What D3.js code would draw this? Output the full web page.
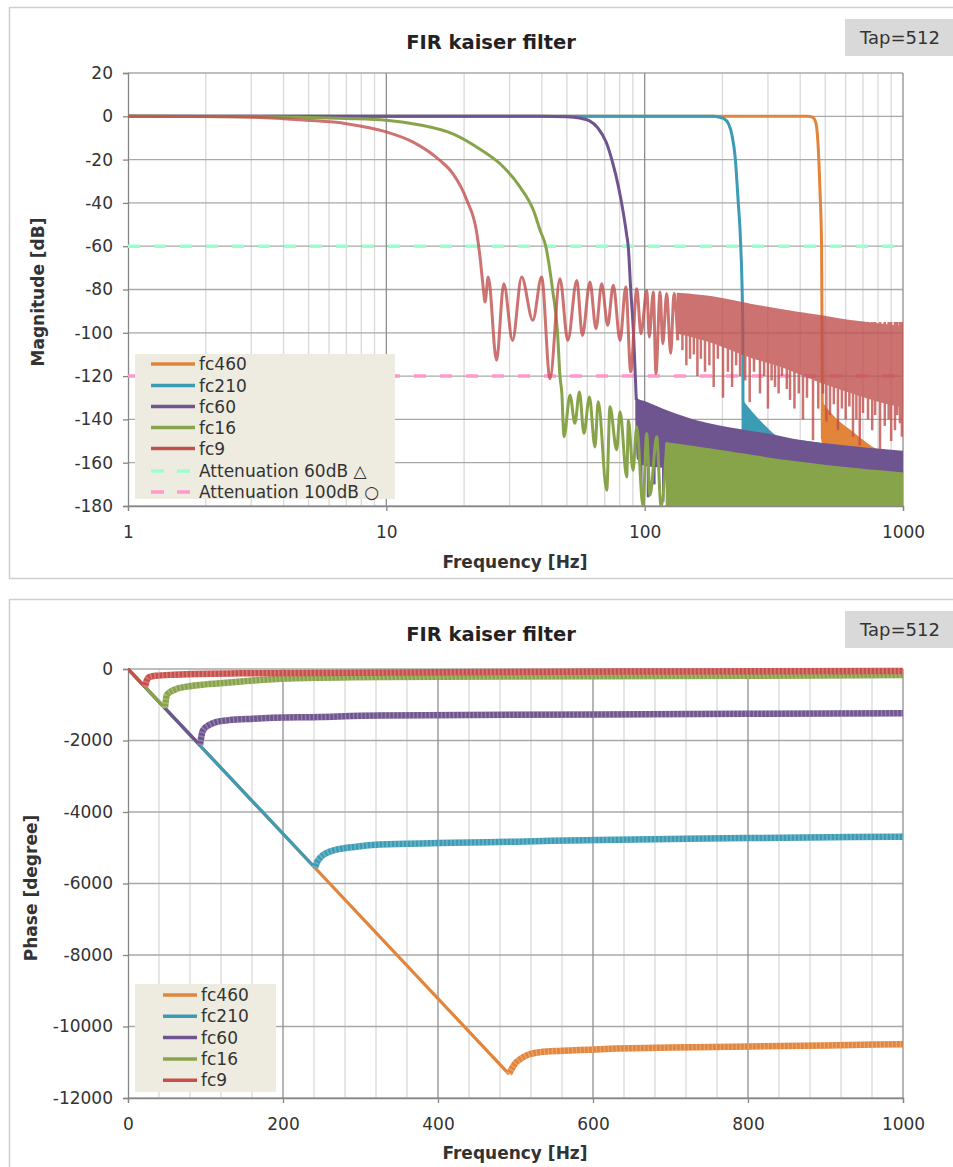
<!DOCTYPE html>
<html>
<head>
<meta charset="utf-8">
<script src="https://cdn.jsdelivr.net/npm/d3@7"></script>
<style>
body { margin: 0; background: #fff; }
svg { display: block; font-family: "DejaVu Sans", Verdana, sans-serif; }
</style>
</head>
<body>
<svg id="chart" width="953" height="1167"></svg>
<script>
// ---------- magnitude data : [Hz, dB] ----------
var magFc460 = [[1,0],[300,0],[430,0],[443,-0.3],[455,-1.5],[463,-4.9],[470,-15],[477,-34],[484,-60],[486,-100],[487,-132.7],[487.3,-149]];
var magFc210 = [[1,0],[150,0],[185,0],[193,-0.3],[202,-1],[211,-3.4],[218,-9],[224,-18.8],[230,-38.8],[235.5,-60],[239.7,-95.8],[240.2,-132],[240.4,-147]];
var magFc60 = [[1,0],[40,0],[50,-0.2],[56,-0.8],[61,-2],[66,-5.5],[71,-12],[75,-21],[79,-32],[82.5,-44],[85,-54],[86.5,-61],[88.3,-80],[90.5,-100],[92,-120],[92.8,-131]];
var magFc16 = [[1,0],[3,-0.2],[5,-0.5],[7,-1],[10,-1.8],[13.5,-4],[18.2,-8.2],[23.05,-15.2],[28.4,-23.4],[32.9,-32.6],[37.1,-43.4],[39.4,-52.7],[41.4,-60],[44,-80],[46,-100],[47,-120],[47.8,-128],[48.7,-148],
  [51.4,-128.9],[53.7,-141.8],[55.9,-127.3],[58.2,-146.5],[61.1,-129.6],[64.2,-152.7],[66.1,-131.9],[71.3,-172.7],[73.4,-134.2],[77.9,-154],[80.3,-136.5],[85.2,-166.5],[86.5,-140.4],[90.1,-163.5],[93.2,-143.5],[98.5,-180],[101.8,-146.5],[104.9,-175],[111.3,-148],[115.7,-180],[121.7,-151]];
var magFc9 = [[1,0],[2,-0.1],[3.05,-0.4],[4.9,-1.8],[7,-3.4],[10,-7.2],[12.7,-11.9],[16.1,-20.3],[18.1,-26.5],[20.5,-38.8],[22.4,-54],[23.05,-65],[23.7,-78.8],[24.1,-85.8],
  [24.8,-74.2],[26.7,-112.7],[28.5,-77.3],[30.8,-103.5],[33.4,-74.2],[36.9,-94.2],[39.9,-74.2],[43.0,-121.2],[47.0,-75],[50.4,-103.5],[54.6,-75.8],[57.4,-101.2],[61.4,-76.5],[64.8,-98.1],[68.2,-77.3],[71.9,-96.5],[75.6,-78],[80.3,-103.5],[84.5,-78.8],[88.3,-118],[93.2,-79.6],[96.8,-100.4],[101.9,-80.4],[104.2,-101.9],[108.0,-81.1],[110.6,-118.8],[114.7,-81.1],[117.5,-105],[121.7,-81.9],[126.1,-109.6],[129.9,-81.9],[134.3,-103.5]];

// dense stop band regions : [Hz, top dB, bottom dB]
var bandFc460 = [[487,-132.6,-150],[520,-137,-158],[560,-141,-160],[620,-145,-162],[700,-150,-163],[765,-153.3,-164],[1000,-158,-166]];
var bandFc210 = [[240.3,-132,-148],[260,-137,-155],[290,-143,-158],[330,-148.5,-160],[400,-150,-162],[1000,-156,-166]];
var bandFc60 = [[92.8,-130,-140],[94,-131,-158],[100,-132,-161],[120,-136,-162],[150,-140,-163],[209,-144,-164],[300,-147,-165],[400,-150,-166],[600,-152.5,-167],[1000,-155,-168]];
var bandFc16 = [[121.7,-151,-180],[150,-152.5,-180],[209,-155,-180],[300,-158,-180],[400,-160,-180],[600,-162.5,-180],[1000,-165,-180]];
var bandFc9 = [[134.3,-82,-100],[180,-83.5,-104],[256,-87,-111],[350,-89.8,-116],[464,-92,-122],[650,-94.8,-128],[837,-96.3,-132],[1000,-97.3,-134]];

// deep nulls below the dense bands : [Hz, dB]
var spikesFc9 = [[140,-108],[145,-115],[149.8,-112],[155,-110],[160,-120],[165,-112],[171.2,-118],[178,-115],[185,-125],[192,-112],[201,-130],[210,-118],[218,-125],[226,-115],[234,-120],[245,-122],[255,-132],[265,-118],[279.6,-128],[290,-120],[300,-135],[310,-122],[319.6,-125],[330,-128],[340,-120],[355,-126],[365.3,-131],[380,-135],[395,-128],[410,-140],[425,-130],[448.4,-149.6],[470,-135],[490,-128],[505,-141],[521.6,-138],[540,-133],[560,-145],[580,-135],[600,-140],[620,-134],[640.4,-148],[660,-140],[680,-152],[700,-137],[732,-140],[760,-145],[780,-138],[815,-154],[850,-143],[880,-140],[900,-150],[931,-145],[950,-138],[973,-141.8],[990,-148]];
var spikesFc60 = [[97,-172],[103,-176],[109,-170],[118,-178],[128,-174],[140,-180]];

var magTicksY = [20,0,-20,-40,-60,-80,-100,-120,-140,-160,-180];
var magTicksX = [1,10,100,1000];
var attLevels = [-60,-120];
var attColors = ["#99ffcc","#ff99cc"];
var attLabels = ["Attenuation 60dB \u25b3","Attenuation 100dB \u25cb"];

// ---------- phase data : [Hz, degree] ----------
var phFc460 = [[0,0],[491.6,-11331],[496,-11150],[500,-11020],[506,-10912],[515,-10800],[532,-10717],[560,-10680],[609,-10633],[700,-10590],[800,-10560],[900,-10530],[1000,-10494]];
var phFc210 = [[0,0],[241.3,-5560],[244,-5400],[247.7,-5284],[255,-5160],[269,-5052],[300,-4960],[325,-4912],[400,-4870],[500,-4830],[609,-4780],[800,-4730],[1000,-4690]];
var phFc60 = [[0,0],[92.9,-2130],[95,-1850],[97.2,-1700],[105,-1560],[114.4,-1480],[130,-1430],[161.7,-1390],[247.7,-1340],[325,-1300],[609,-1270],[800,-1250],[1000,-1237]];
var phFc16 = [[0,0],[47.7,-1090],[49,-850],[50,-725],[60,-580],[75.7,-493],[100,-430],[118.7,-400],[150,-340],[204.7,-265],[325,-225],[609,-205],[800,-190],[1000,-170]];
var phFc9 = [[0,0],[22,-500],[24,-330],[27,-230],[35,-190],[60,-160],[150,-120],[400,-90],[700,-70],[1000,-55]];

var phTicksY = [0,-2000,-4000,-6000,-8000,-10000,-12000];
var phTicksX = [0,200,400,600,800,1000];

var seriesNames = ["fc460","fc210","fc60","fc16","fc9"];
var magColors = ["#e2843a","#3c9bb5","#6f558f","#88a44a","#c0504d"];
var phColors = ["#e2843a","#3c9bb5","#6f558f","#88a44a","#c94f4b"];

var svg = d3.select("#chart");

function drawPanel(top, bottom) {
	svg.append("rect")
		.attr("x", 9.5).attr("y", top + 0.5)
		.attr("width", 960).attr("height", bottom - top)
		.attr("fill", "#fff").attr("stroke", "#cfcfcf").attr("stroke-width", 1.5);
	svg.append("rect")
		.attr("x", 845).attr("y", top + 12)
		.attr("width", 115).attr("height", 37)
		.attr("fill", "#d9d9d9");
	svg.append("text")
		.attr("x", 900).attr("y", top + 37)
		.attr("text-anchor", "middle")
		.attr("font-size", 18).attr("fill", "#333")
		.text("Tap=512");
	svg.append("text")
		.attr("x", 491).attr("y", top + 42)
		.attr("text-anchor", "middle")
		.attr("font-size", 19.5).attr("font-weight", "bold").attr("fill", "#222")
		.text("FIR kaiser filter");
}

function styleAxis(g) {
	g.select(".domain").attr("stroke", "#868686").attr("stroke-width", 1.3);
	g.selectAll(".tick line").attr("stroke", "#868686").attr("stroke-width", 1.3);
	g.selectAll(".tick text").attr("font-size", 17).attr("fill", "#333")
		.attr("font-family", "DejaVu Sans, Verdana, sans-serif");
}

function plainNumber(d) { return d; }

// ================= magnitude chart =================
drawPanel(7, 578);

var xMag = d3.scaleLog().domain([1, 1000]).range([128, 903]);
var yMag = d3.scaleLinear().domain([-180, 20]).range([506, 73]);

svg.append("clipPath").attr("id", "clipMag").append("rect")
	.attr("x", 128).attr("y", 73).attr("width", 775).attr("height", 433);

var minorX = [];
[1, 10, 100].forEach(function(d) {
	for (var k = 2; k <= 9; k++) minorX.push(d * k);
});

var gridMag = svg.append("g");
gridMag.selectAll(".minor").data(minorX).enter().append("line")
	.attr("x1", function(d) { return xMag(d); }).attr("x2", function(d) { return xMag(d); })
	.attr("y1", 73).attr("y2", 506)
	.attr("stroke", "#d9d9d9").attr("stroke-width", 1.3);
gridMag.selectAll(".hgrid").data(magTicksY).enter().append("line")
	.attr("x1", 128).attr("x2", 903)
	.attr("y1", function(d) { return yMag(d); }).attr("y2", function(d) { return yMag(d); })
	.attr("stroke", "#a8a8a8").attr("stroke-width", 1.3);
gridMag.selectAll(".vgrid").data([10, 100, 1000]).enter().append("line")
	.attr("x1", function(d) { return xMag(d); }).attr("x2", function(d) { return xMag(d); })
	.attr("y1", 73).attr("y2", 506)
	.attr("stroke", "#8e8e8e").attr("stroke-width", 1.3);

svg.append("g")
	.attr("transform", "translate(128,0)")
	.call(d3.axisLeft(yMag).tickValues(magTicksY).tickSize(5).tickPadding(10).tickFormat(plainNumber))
	.call(styleAxis);
svg.append("g")
	.attr("transform", "translate(0,506)")
	.call(d3.axisBottom(xMag).tickValues(magTicksX).tickSize(5).tickPadding(15).tickFormat(plainNumber))
	.call(styleAxis);

var plotMag = svg.append("g").attr("clip-path", "url(#clipMag)");

var magLine = d3.line()
	.x(function(d) { return xMag(d[0]); })
	.y(function(d) { return yMag(d[1]); })
	.curve(d3.curveMonotoneX);
var magArea = d3.area()
	.x(function(d) { return xMag(d[0]); })
	.y0(function(d) { return yMag(d[2]); })
	.y1(function(d) { return yMag(d[1]); })
	.curve(d3.curveMonotoneX);

var magLines = [magFc460, magFc210, magFc60, magFc16, magFc9];
var magBands = [bandFc460, bandFc210, bandFc60, bandFc16, bandFc9];
var magSpikes = [[], [], spikesFc60, [], spikesFc9];

attLevels.forEach(function(v, i) {
	plotMag.append("line")
		.attr("x1", 128).attr("x2", 903)
		.attr("y1", yMag(v)).attr("y2", yMag(v))
		.attr("stroke", attColors[i]).attr("stroke-width", 3.5)
		.attr("stroke-dasharray", "12,14");
});

for (var i = 0; i < magLines.length; i++) {
	var g = plotMag.append("g").attr("opacity", i == 4 ? 0.8 : 1);
	g.append("path")
		.attr("d", magArea(magBands[i]))
		.attr("fill", magColors[i])
		.attr("stroke", magColors[i]).attr("stroke-width", 2);
	g.selectAll(".spike").data(magSpikes[i]).enter().append("line")
		.attr("x1", function(d) { return xMag(d[0]); }).attr("x2", function(d) { return xMag(d[0]); })
		.attr("y1", function(d) { return yMag(d[1]); })
		.attr("y2", yMag(i == 4 ? -95 : -150))
		.attr("stroke", magColors[i]).attr("stroke-width", 2.5);
	g.append("path")
		.attr("d", magLine(magLines[i]))
		.attr("fill", "none")
		.attr("stroke", magColors[i]).attr("stroke-width", 3)
		.attr("stroke-linejoin", "round");
}

// legend
var legMag = svg.append("g");
legMag.append("rect")
	.attr("x", 135).attr("y", 354).attr("width", 260).attr("height", 145)
	.attr("fill", "#eeece1");
var legYs = [364, 385.5, 406.5, 427.5, 448.5, 471, 492];
seriesNames.forEach(function(name, i) {
	legMag.append("line")
		.attr("x1", 151).attr("x2", 195)
		.attr("y1", legYs[i]).attr("y2", legYs[i])
		.attr("stroke", magColors[i]).attr("stroke-width", 3.5);
	legMag.append("text")
		.attr("x", 199).attr("y", legYs[i] + 6)
		.attr("font-size", 17).attr("fill", "#333")
		.text(name);
});
attLabels.forEach(function(name, i) {
	var yy = legYs[5 + i];
	legMag.append("line")
		.attr("x1", 151).attr("x2", 191)
		.attr("y1", yy).attr("y2", yy)
		.attr("stroke", attColors[i]).attr("stroke-width", 3.5)
		.attr("stroke-dasharray", "13,13");
	legMag.append("text")
		.attr("x", 199).attr("y", yy + 6)
		.attr("font-size", 17).attr("fill", "#333")
		.text(name);
});

svg.append("text")
	.attr("x", 515).attr("y", 568)
	.attr("text-anchor", "middle")
	.attr("font-size", 17).attr("font-weight", "bold").attr("fill", "#333")
	.text("Frequency [Hz]");
svg.append("text")
	.attr("transform", "translate(44,292) rotate(-90)")
	.attr("text-anchor", "middle")
	.attr("font-size", 17).attr("font-weight", "bold").attr("fill", "#333")
	.text("Magnitude [dB]");

// ================= phase chart =================
drawPanel(599, 1180);

var xPh = d3.scaleLinear().domain([0, 1000]).range([128, 903]);
var yPh = d3.scaleLinear().domain([-12000, 0]).range([1098, 669]);

svg.append("clipPath").attr("id", "clipPh").append("rect")
	.attr("x", 128).attr("y", 660).attr("width", 775).attr("height", 438);

var minorPh = d3.range(40, 1000, 40).filter(function(d) { return d % 200 != 0; });

var gridPh = svg.append("g");
gridPh.selectAll(".minor").data(minorPh).enter().append("line")
	.attr("x1", function(d) { return xPh(d); }).attr("x2", function(d) { return xPh(d); })
	.attr("y1", 669).attr("y2", 1098)
	.attr("stroke", "#d9d9d9").attr("stroke-width", 1.3);
gridPh.selectAll(".hgrid").data(phTicksY).enter().append("line")
	.attr("x1", 128).attr("x2", 903)
	.attr("y1", function(d) { return yPh(d); }).attr("y2", function(d) { return yPh(d); })
	.attr("stroke", "#a8a8a8").attr("stroke-width", 1.3);
gridPh.selectAll(".vgrid").data(phTicksX.slice(1)).enter().append("line")
	.attr("x1", function(d) { return xPh(d); }).attr("x2", function(d) { return xPh(d); })
	.attr("y1", 669).attr("y2", 1098)
	.attr("stroke", "#8e8e8e").attr("stroke-width", 1.3);

svg.append("g")
	.attr("transform", "translate(128,0)")
	.call(d3.axisLeft(yPh).tickValues(phTicksY).tickSize(5).tickPadding(10).tickFormat(plainNumber))
	.call(styleAxis);
svg.append("g")
	.attr("transform", "translate(0,1098)")
	.call(d3.axisBottom(xPh).tickValues(phTicksX).tickSize(5).tickPadding(15).tickFormat(plainNumber))
	.call(styleAxis);

var plotPh = svg.append("g").attr("clip-path", "url(#clipPh)");
var phLine = d3.line()
	.x(function(d) { return xPh(d[0]); })
	.y(function(d) { return yPh(d[1]); })
	.curve(d3.curveMonotoneX);

var phLines = [phFc460, phFc210, phFc60, phFc16, phFc9];
for (var i = 0; i < phLines.length; i++) {
	var data = phLines[i];
	var m = d3.minIndex(data, function(d) { return d[1]; });
	// linear phase part
	plotPh.append("path")
		.attr("d", d3.line().x(function(d) { return xPh(d[0]); }).y(function(d) { return yPh(d[1]); })(data.slice(0, m + 1)))
		.attr("fill", "none").attr("stroke", phColors[i]).attr("stroke-width", 3.2);
	// stop band part (rippled, drawn thick)
	plotPh.append("path")
		.attr("d", phLine(data.slice(m)))
		.attr("fill", "none").attr("stroke", phColors[i]).attr("stroke-width", 6.5)
		.attr("stroke-linejoin", "round");
	plotPh.append("path")
		.attr("d", phLine(data.slice(m)))
		.attr("fill", "none").attr("stroke", "#fff").attr("stroke-width", 6.5)
		.attr("stroke-dasharray", "1.5,2.5").attr("opacity", 0.25);
}

var legPh = svg.append("g");
legPh.append("rect")
	.attr("x", 135).attr("y", 984).attr("width", 141).attr("height", 108)
	.attr("fill", "#eeece1");
seriesNames.forEach(function(name, i) {
	var yy = 995 + i * 21.3;
	legPh.append("line")
		.attr("x1", 163).attr("x2", 197)
		.attr("y1", yy).attr("y2", yy)
		.attr("stroke", phColors[i]).attr("stroke-width", 3.5);
	legPh.append("text")
		.attr("x", 201).attr("y", yy + 6)
		.attr("font-size", 17).attr("fill", "#333")
		.text(name);
});

svg.append("text")
	.attr("x", 515).attr("y", 1159)
	.attr("text-anchor", "middle")
	.attr("font-size", 17).attr("font-weight", "bold").attr("fill", "#333")
	.text("Frequency [Hz]");
svg.append("text")
	.attr("transform", "translate(37,888) rotate(-90)")
	.attr("text-anchor", "middle")
	.attr("font-size", 17).attr("font-weight", "bold").attr("fill", "#333")
	.text("Phase [degree]");
</script>
</body>
</html>
